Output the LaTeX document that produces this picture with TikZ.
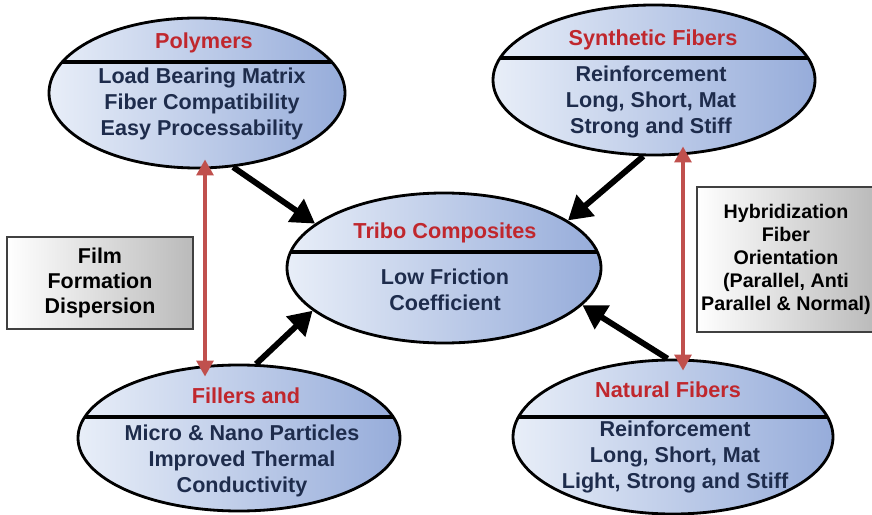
\documentclass[tikz,border=0pt]{standalone}
\usepackage{fontspec}
\setmainfont{Liberation Sans}
\usetikzlibrary{shapes.geometric, arrows.meta, calc}

\definecolor{headred}{RGB}{192,39,45}
\definecolor{bodynavy}{RGB}{30,44,76}
\definecolor{blobleft}{RGB}{232,238,248}
\definecolor{blobright}{RGB}{150,172,218}
\definecolor{linkred}{RGB}{192,80,77}

\tikzset{
  blob/.style={ellipse, draw=black, line width=2.4pt, inner sep=0pt,
    left color=blobleft, right color=blobright,
    path picture={\draw[line width=2.6pt] ([yshift=#1]path picture bounding box.west)
      -- ([yshift=#1]path picture bounding box.east);}},
  head/.style={text=headred, font=\bfseries\fontsize{18.5}{22}\selectfont},
  body/.style={text=bodynavy, align=center, font=\bfseries\fontsize{18.4}{22}\selectfont},
  sidebox/.style={draw=black!75, line width=1.2pt, inner sep=0pt,
    left color=white, right color=black!27, align=center},
  push/.style={line width=5pt, -{Triangle[length=0.7cm, width=0.8cm]}},
  link/.style={line width=3.3pt, draw=linkred,
    {Triangle[length=0.48cm, width=0.5cm]}-{Triangle[length=0.48cm, width=0.5cm]}}
}

\begin{document}
\begin{tikzpicture}[x=0.03cm, y=-0.03cm]
    \useasboundingbox (0,0) rectangle (872,515);
    \clip (0,0) rectangle (872,515);

    % Draw side boxes
    \node[sidebox, minimum width=5.58cm, minimum height=2.76cm,
      font=\bfseries\fontsize{18.3}{21.3}\selectfont] (film) at (100,283)
      {Film\\Formation\\Dispersion};
    \node[sidebox, minimum width=5.34cm, minimum height=4.35cm,
      font=\bfseries\fontsize{16.8}{19.6}\selectfont] (hybrid) at (786,259.5)
      {Hybridization\\Fiber\\Orientation\\(Parallel, Anti\\Parallel \& Normal)};

    % Draw ellipses
    \node[blob=0.93cm, minimum width=8.88cm, minimum height=4.5cm] (poly) at (197,93) {};
    \node[blob=0.66cm, minimum width=9.66cm, minimum height=4.5cm] (synth) at (654,80) {};
    \node[blob=0.48cm, minimum width=9.42cm, minimum height=4.5cm] (tribo) at (444,268) {};
    \node[blob=0.63cm, minimum width=9.66cm, minimum height=4.38cm] (fill) at (239,438) {};
    \node[blob=0.6cm, minimum width=9.6cm, minimum height=4.62cm] (natural) at (673,437) {};

    % Labels
    \node[head] (polyhead) at ($(poly.center)+(7,-50)$) {Polymers};
    \node[body] (polybody) at ($(poly.center)+(5,11)$)
      {Load Bearing Matrix\\Fiber Compatibility\\Easy Processability};
    \node[head] (synthhead) at ($(synth.center)+(-1,-40)$) {Synthetic Fibers};
    \node[body] (synthbody) at ($(synth.center)+(-3,22)$)
      {Reinforcement\\Long, Short, Mat\\Strong and Stiff};
    \node[head] (tribohead) at ($(tribo.center)+(1,-35)$) {Tribo Composites};
    \node[body] (tribobody) at ($(tribo.center)+(1,22)$) {Low Friction\\Coefficient};
    \node[head] (fillhead) at ($(fill.center)+(7,-42)$) {Fillers and};
    \node[body] (fillbody) at ($(fill.center)+(3,23)$)
      {Micro \& Nano Particles\\Improved Thermal\\Conductivity};
    \node[head] (naturalhead) at ($(natural.center)+(-5,-47)$) {Natural Fibers};
    \node[body] (naturalbody) at ($(natural.center)+(2,20)$)
      {Reinforcement\\Long, Short, Mat\\Light, Strong and Stiff};

    % Draw connections
    \draw[push] (poly.-64) -- (tribo.161);
    \draw[push] (synth.-98) -- (tribo.21);
    \draw[push] (fill.77) -- (tribo.198);
    \draw[push] (natural.94) -- (tribo.-15);
    \draw[link] ($(poly.south)+(8,-10)$) -- ($(fill.north)+(-34,13)$);
    \draw[link] ($(synth.south)+(29,-10)$) -- ($(natural.north)+(10,12)$);
\end{tikzpicture}
\end{document}
